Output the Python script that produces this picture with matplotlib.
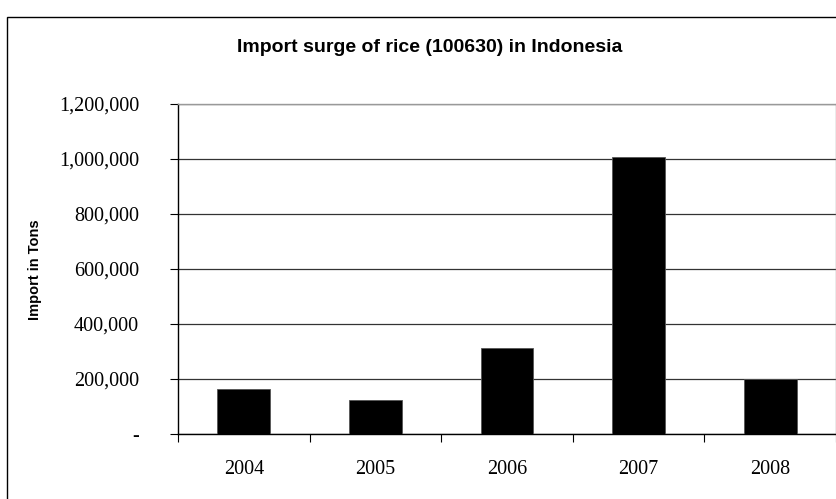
import numpy as np
import matplotlib
matplotlib.use("Agg")
import matplotlib.pyplot as plt
from matplotlib.patches import Rectangle
from matplotlib.ticker import FuncFormatter, FixedLocator

years = ["2004", "2005", "2006", "2007", "2008"]
imports = [165000, 125000, 312000, 1006000, 201000]
yticks = [0, 200000, 400000, 600000, 800000, 1000000, 1200000]

narrow = ["Liberation Sans Narrow", "Liberation Sans", "DejaVu Sans"]
serif = ["Liberation Serif", "DejaVu Serif"]

W, H = 837, 499
fig = plt.figure(figsize=(W / 100, H / 100), dpi=100)

# outer chart frame (cut off at right and bottom, like the source)
fig.patches.append(Rectangle((7 / W, -0.1), 1.2, 1.1 - 17 / H, transform=fig.transFigure,
                             fill=False, edgecolor="black", linewidth=1.0))

ax = fig.add_axes([178 / W, (H - 434) / H, 658 / W, (434 - 104) / H])
x = np.arange(len(years))
ax.bar(x, imports, width=0.4, color="black", edgecolor="#555555", linewidth=0.6, zorder=3)

ax.set_xlim(-0.5, len(years) - 0.5)
ax.set_ylim(0, 1200000)
ax.set_yticks(yticks)
ax.yaxis.set_major_formatter(FuncFormatter(lambda v, p: "-" if v == 0 else f"{int(v):,}"))
ax.grid(axis="y", color="#333333", linewidth=0.9, zorder=0)

ax.set_xticks(x)
ax.set_xticklabels(years)
ax.xaxis.set_minor_locator(FixedLocator(np.arange(-0.5, len(years), 1.0)))
ax.tick_params(axis="x", which="major", length=0, pad=19)
ax.tick_params(axis="x", which="minor", length=6, width=0.8, direction="out")
ax.tick_params(axis="y", length=6, width=0.8, direction="out", pad=22)
for lab in ax.get_xticklabels() + ax.get_yticklabels():
    lab.set_fontfamily(serif)
    lab.set_fontsize(14.5)

for s in ["left", "bottom"]:
    ax.spines[s].set_color("black")
    ax.spines[s].set_linewidth(1.0)
for s in ["top", "right"]:
    ax.spines[s].set_color("#999999")
    ax.spines[s].set_linewidth(1.0)

fig.text(430 / W, 1 - 47 / H, "Import surge of rice (100630) in Indonesia",
         ha="center", va="center", fontsize=14, fontweight="bold", family=narrow)
fig.text(35 / W, 1 - 270 / H, "Import in Tons", rotation=90, ha="center", va="center",
         fontsize=10.5, fontweight="bold", family=narrow)

fig.savefig("out.png", dpi=100)
